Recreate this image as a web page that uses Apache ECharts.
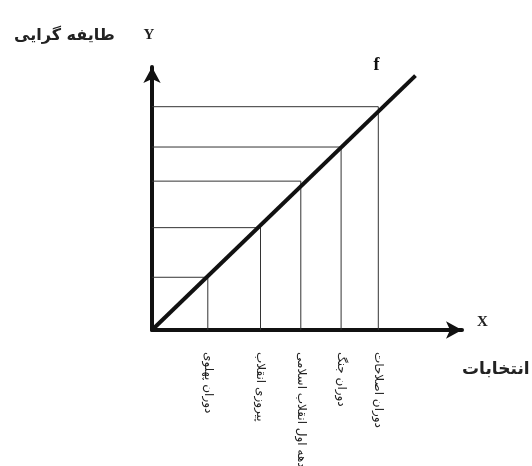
<!DOCTYPE html>
<html>
<head>
<meta charset="utf-8">
<script src="https://cdn.jsdelivr.net/npm/echarts@6/dist/echarts.min.js"></script>
<style>
  html, body { margin: 0; padding: 0; background: #fff; }
  #chart { width: 532px; height: 466px; }
</style>
</head>
<body>
<div id="chart"></div>
<script>
// نقاط روی تابع f و خطوط عمود بر محورها
var levelsX = [18, 35, 48, 61, 73];
var levelsY = [17, 33, 48, 59, 72];
var fEnd = [85, 82];
var xLabels = ['دوران پهلوی', 'پیروزی انقلاب', 'دهه اول انقلاب اسلامی', 'دوران جنگ', 'دوران اصلاحات'];

var series = [];
// مستطیل ها (از محور y تا نقطه و از نقطه تا محور x)
for (var i = 0; i < levelsX.length; i++) {
  series.push({
    type: 'line',
    symbol: 'none',
    silent: true,
    lineStyle: { color: '#333', width: 1 },
    data: [[0, levelsY[i]], [levelsX[i], levelsY[i]], [levelsX[i], 0]]
  });
}
// خط f
series.push({
  type: 'line',
  symbol: 'none',
  lineStyle: { color: '#111', width: 4 },
  endLabel: {
    show: true,
    formatter: 'f',
    offset: [-50, -10],
    fontFamily: 'Liberation Serif',
    fontWeight: 'bold',
    fontSize: 18,
    color: '#111'
  },
  data: [[0, 0], fEnd]
});

var myChart = echarts.init(document.getElementById('chart'));
var option = {
  backgroundColor: '#fff',
  animation: false,
  grid: { left: 152, right: 70, top: 67, bottom: 136, outerBoundsMode: 'none', containLabel: false },
  xAxis: {
    type: 'value',
    min: 0,
    max: 100,
    name: 'X',
    nameGap: 15,
    nameTextStyle: { fontFamily: 'Liberation Serif', fontWeight: 'bold', fontSize: 15, color: '#222', verticalAlign: 'bottom' },
    axisLine: { lineStyle: { color: '#111', width: 4 }, symbol: ['none', 'arrow'], symbolSize: [13, 16] },
    axisTick: { show: false },
    splitLine: { show: false },
    axisLabel: {
      customValues: levelsX,
      rotate: -90,
      margin: 22,
      fontFamily: 'DejaVu Sans',
      fontSize: 12,
      color: '#222',
      formatter: function (v) {
        var k = levelsX.indexOf(v);
        return k >= 0 ? xLabels[k] : '';
      }
    }
  },
  yAxis: {
    type: 'value',
    min: 0,
    max: 84.8,
    name: 'Y',
    nameGap: 24,
    nameTextStyle: { fontFamily: 'Liberation Serif', fontWeight: 'bold', fontSize: 15, color: '#222', padding: [0, 6, 0, 0] },
    axisLine: { lineStyle: { color: '#111', width: 4 }, symbol: ['none', 'arrow'], symbolSize: [13, 16] },
    axisTick: { show: false },
    axisLabel: { show: false },
    splitLine: { show: false }
  },
  graphic: [
    { type: 'text', left: 14, top: 28,
      style: { text: 'طایفه گرایی', font: 'bold 16px "DejaVu Sans"', fill: '#222' } },
    { type: 'text', left: 462, top: 361,
      style: { text: 'انتخابات', font: 'bold 17px "DejaVu Sans"', fill: '#222' } }
  ],
  series: series
};
myChart.setOption(option);
</script>
</body>
</html>
